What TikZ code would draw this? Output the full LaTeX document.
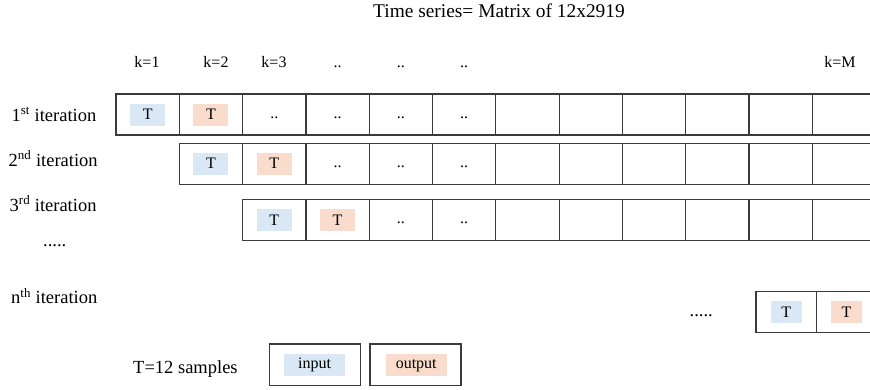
\documentclass[tikz,border=0pt]{standalone}
\usepackage{fontspec}
\setmainfont{Liberation Serif}
\definecolor{inblue}{HTML}{DAE7F5}
\definecolor{outorange}{HTML}{F9DCCB}
\definecolor{linecol}{HTML}{3A3A3A}
\begin{document}
\begin{tikzpicture}[x=1pt,y=-1pt,
  cell/.style={draw=linecol, line width=1.2pt, minimum width=63.3pt, minimum height=41pt, inner sep=0pt, outer sep=0pt},
  legbox/.style={draw=linecol, line width=1.2pt, minimum width=91pt, minimum height=41.7pt, inner sep=0pt},
  inT/.style={fill=inblue, minimum width=35pt, minimum height=22pt, inner sep=0pt, font=\fontsize{16}{18}\selectfont},
  outT/.style={fill=outorange, minimum width=35pt, minimum height=22pt, inner sep=0pt, font=\fontsize{16}{18}\selectfont},
  celldots/.style={anchor=base, inner sep=0pt, yshift=-3.5pt, font=\fontsize{16}{18}\selectfont},
  lab/.style={anchor=base west, inner sep=0pt, font=\fontsize{18.5}{22}\selectfont},
  klab/.style={anchor=base, inner sep=0pt, font=\fontsize{16}{18}\selectfont}]
\useasboundingbox (0,0) rectangle (870,389);
\clip (0,0) rectangle (870,389);

% title and column labels
\node[anchor=base, inner sep=0pt, font=\fontsize{19.4}{22}\selectfont] (title) at (499,17.3) {Time series= Matrix of 12x2919};
\node[klab] (k1) at (147,67.3) {k=1};
\node[klab] (k2) at (216,67.3) {k=2};
\node[klab] (k3) at (274,67.3) {k=3};
\node[klab] (kd1) at (337.5,67.3) {..};
\node[klab] (kd2) at (400.8,67.3) {..};
\node[klab] (kd3) at (464,67.3) {..};
\node[klab] (kM) at (840,67.3) {k=M};

% rows of cells
\foreach \r/\s/\y in {1/1/114.5, 2/2/163.7, 3/3/220} {
  \foreach \i in {\s,...,12} {
    \node[cell] (r\r c\i) at ({116+63.3*(\i-0.5)},\y) {};
  }
}

% row 1 contents
\node[inT] (t1in) at (r1c1) {T};
\node[outT] (t1out) at (r1c2) {T};
\foreach \i in {3,...,6} { \node[celldots] (d1c\i) at (r1c\i) {..}; }
% row 2 contents
\node[inT] (t2in) at (r2c2) {T};
\node[outT] (t2out) at (r2c3) {T};
\foreach \i in {4,...,6} { \node[celldots] (d2c\i) at (r2c\i) {..}; }
% row 3 contents
\node[inT] (t3in) at (r3c3) {T};
\node[outT] (t3out) at (r3c4) {T};
\foreach \i in {5,...,6} { \node[celldots] (d3c\i) at (r3c\i) {..}; }

% n-th row
\node[cell, minimum width=60.7pt, minimum height=40.6pt] (rnA) at (786.35,312) {};
\node[cell, minimum height=40.6pt] (rnB) at (848.35,312) {};
\node[inT, minimum width=31.7pt] (tnin) at (rnA) {T};
\node[outT, minimum width=31.7pt] (tnout) at (846.4,312) {T};

% row labels
\node[lab] (l1) at (11.5,121) {1\textsuperscript{st} iteration};
\node[lab] (l2) at (8.5,166) {2\textsuperscript{nd} iteration};
\node[lab] (l3) at (9.5,211) {3\textsuperscript{rd} iteration};
\node[lab] (ldots) at (43,246.5) {.....};
\node[lab] (ln) at (11,303.3) {n\textsuperscript{th} iteration};
\node[lab] (ndots) at (689.5,316.5) {.....};

% legend
\node[lab] (tlab) at (133,373.3) {T=12 samples};
\node[legbox] (legin) at (314.65,364.85) {};
\node[legbox] (legout) at (415.5,364.85) {};
\node[inT, minimum width=61pt] (inlab) at (314.5,365.2) {input};
\node[outT, minimum width=61pt] (outlab) at (416.2,365.2) {output};
\end{tikzpicture}
\end{document}
